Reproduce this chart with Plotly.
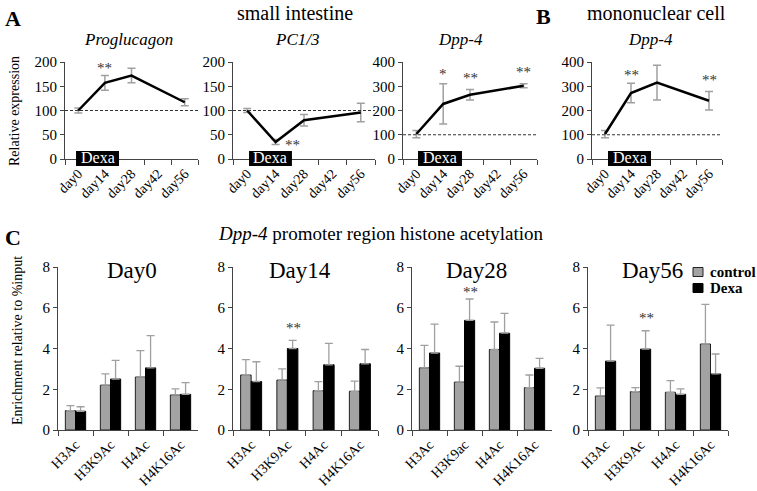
import plotly.graph_objects as go

# ---------------- data ----------------
days = ["day0", "day14", "day28", "day42", "day56"]

progluc = [100, 157, 172, None, 117]
progluc_err = [5, 15, 15, None, 7]
pc13 = [100, 35, 80, None, 96]
pc13_err = [4, 5, 12, None, 19]
dpp4_si = [103, 227, 265, None, 302]
dpp4_si_err = [15, 83, 22, None, 8]
dpp4_mn = [103, 272, 315, None, 240]
dpp4_mn_err = [15, 40, 72, None, 38]

marks = ["H3Ac", "H3K9Ac", "H4Ac", "H4K16Ac"]
marks_d28 = ["H3Ac", "H3K9ac", "H4Ac", "H4K16Ac"]

ctrl_d0 = [0.95, 2.2, 2.6, 1.72]
ctrl_d0_err = [0.25, 0.55, 1.3, 0.3]
dexa_d0 = [0.92, 2.5, 3.05, 1.75]
dexa_d0_err = [0.22, 0.92, 1.58, 0.58]

ctrl_d14 = [2.7, 2.45, 1.93, 1.9]
ctrl_d14_err = [0.75, 0.55, 0.44, 0.5]
dexa_d14 = [2.38, 4.0, 3.2, 3.25]
dexa_d14_err = [0.97, 0.4, 1.05, 0.7]

ctrl_d28 = [3.05, 2.35, 3.95, 2.08]
ctrl_d28_err = [1.1, 0.78, 1.35, 0.62]
dexa_d28 = [3.78, 5.38, 4.75, 3.03]
dexa_d28_err = [1.42, 1.05, 0.97, 0.49]

ctrl_d56 = [1.67, 1.88, 1.85, 4.22]
ctrl_d56_err = [0.4, 0.2, 0.57, 1.95]
dexa_d56 = [3.38, 3.97, 1.75, 2.75]
dexa_d56_err = [1.77, 0.9, 0.27, 0.98]

# ---------------- style ----------------
FONT = "Liberation Serif, Times New Roman, serif"
AX = "#444444"
GREY = "#a3a3a3"
ERR = "#a0a0a0"
STAR = "#333333"
W, H = 757, 491

def px(x):
    return x / W

def py(y):
    return 1 - y / H

fig = go.Figure()
annotations = []
shapes = []

top_panels = [
    # values, errors, gene title, x-domain (px), ymax, dtick, title centre x, dexa box (domain frac), stars
    (progluc, progluc_err, "Proglucagon", (65, 198), 200, 50, 128, (0.083, 0.406),
     [("day14", 188, "**"), ("day28", 205, "**")]),
    (pc13, pc13_err, "PC1/3", (233, 375), 200, 50, 297, (0.113, 0.415),
     [("day14", 28, "**")]),
    (dpp4_si, dpp4_si_err, "Dpp-4", (403, 537), 400, 100, 460, (0.112, 0.44),
     [("day14", 352, "*"), ("day28", 335, "**"), ("day56", 360, "**")]),
    (dpp4_mn, dpp4_mn_err, "Dpp-4", (592, 722), 400, 100, 650, (0.123, 0.454),
     [("day14", 345, "**"), ("day28", 420, "*"), ("day56", 325, "**")]),
]
top_dom = [py(159), py(62)]

for i, (vals, errs, title, xd, ymax, dtick, tcx, box, stars) in enumerate(top_panels):
    n = i + 1
    xa = "x" if n == 1 else f"x{n}"
    ya = "y" if n == 1 else f"y{n}"
    fig.add_trace(go.Scatter(
        x=days, y=vals, mode="lines", connectgaps=True,
        line=dict(color="black", width=2.5),
        error_y=dict(type="data", array=errs, color=ERR, thickness=1.5, width=4),
        xaxis=xa, yaxis=ya, showlegend=False, hoverinfo="skip"))
    fig.update_layout(**{
        ("xaxis" if n == 1 else f"xaxis{n}"): dict(
            domain=[px(xd[0]), px(xd[1])], anchor=ya, type="category",
            categoryarray=days, range=[-0.5, 4.5], showline=True, linecolor=AX,
            linewidth=1, ticks="outside", tickson="boundaries", ticklen=5,
            tickcolor=AX, tickangle=-45, automargin=False,
            tickfont=dict(family=FONT, size=14, color="black"),
            showgrid=False, zeroline=False, fixedrange=True),
        ("yaxis" if n == 1 else f"yaxis{n}"): dict(
            domain=top_dom, anchor=xa, range=[0, ymax], dtick=dtick,
            showline=True, linecolor=AX, linewidth=1, ticks="outside",
            ticklen=4, tickcolor=AX, showgrid=False, zeroline=False, automargin=False,
            tickfont=dict(family=FONT, size=15, color="black"), fixedrange=True),
    })
    # reference line at 100
    shapes.append(dict(type="line", xref=f"{xa} domain", yref=ya, x0=0, x1=1,
                       y0=100, y1=100, line=dict(color="#333", width=1, dash="3px,2px")))
    # Dexa box
    shapes.append(dict(type="rect", xref=f"{xa} domain", yref=f"{ya} domain",
                       ysizemode="pixel", yanchor=0, y0=-7, y1=8,
                       x0=box[0], x1=box[1], fillcolor="black", line=dict(width=0),
                       layer="above"))
    annotations.append(dict(text="Dexa", xref=f"{xa} domain", yref=f"{ya} domain",
                            x=(box[0] + box[1]) / 2, y=0, yshift=1, showarrow=False,
                            yanchor="middle", xanchor="center",
                            font=dict(family=FONT, size=16, color="white")))
    # gene title
    annotations.append(dict(text=f"<i>{title}</i>", xref="paper", yref="paper",
                            x=px(tcx), y=py(40), showarrow=False,
                            xanchor="center", yanchor="middle",
                            font=dict(family=FONT, size=17, color="black")))
    for cat, yv, s in stars:
        annotations.append(dict(text=s, x=cat, y=yv, xref=xa, yref=ya, showarrow=False,
                                xshift=(17 if n == 2 else 0),
                                font=dict(family=FONT, size=15, color=STAR)))

bottom_panels = [
    (marks, ctrl_d0, ctrl_d0_err, dexa_d0, dexa_d0_err, "Day0", (58, 198), 132, None),
    (marks, ctrl_d14, ctrl_d14_err, dexa_d14, dexa_d14_err, "Day14", (233, 378), 300, ("H3K9Ac", 5.0)),
    (marks_d28, ctrl_d28, ctrl_d28_err, dexa_d28, dexa_d28_err, "Day28", (412, 552), 476, ("H3K9ac", 6.75)),
    (marks, ctrl_d56, ctrl_d56_err, dexa_d56, dexa_d56_err, "Day56", (588, 728), 652, ("H3K9Ac", 5.5)),
]
bot_dom = [py(430), py(267)]

for j, (cats, c, ce, d, de, title, xd, tcx, star) in enumerate(bottom_panels):
    n = j + 5
    xa, ya = f"x{n}", f"y{n}"
    fig.add_trace(go.Bar(
        x=cats, y=c, name="control", showlegend=False,
        marker=dict(color=GREY, line=dict(color="#222", width=1)),
        error_y=dict(type="data", symmetric=False, array=ce, arrayminus=[0] * 4,
                     color=ERR, thickness=1.3, width=4),
        xaxis=xa, yaxis=ya, hoverinfo="skip"))
    fig.add_trace(go.Bar(
        x=cats, y=d, name="Dexa", showlegend=False,
        marker=dict(color="black", line=dict(color="black", width=1)),
        error_y=dict(type="data", symmetric=False, array=de, arrayminus=[0] * 4,
                     color=ERR, thickness=1.3, width=4),
        xaxis=xa, yaxis=ya, hoverinfo="skip"))
    fig.update_layout(**{
        f"xaxis{n}": dict(
            domain=[px(xd[0]), px(xd[1])], anchor=ya, type="category", range=[-0.5, 3.5],
            showline=True, linecolor=AX, linewidth=1, ticks="outside",
            tickson="boundaries", ticklen=5, tickcolor=AX, tickangle=-45,
            automargin=False, tickfont=dict(family=FONT, size=14, color="black"),
            showgrid=False, zeroline=False, fixedrange=True),
        f"yaxis{n}": dict(
            domain=bot_dom, anchor=xa, range=[0, 8], dtick=2, showline=True,
            linecolor=AX, linewidth=1, ticks="outside", ticklen=4, tickcolor=AX,
            showgrid=False, zeroline=False, automargin=False,
            tickfont=dict(family=FONT, size=15, color="black"), fixedrange=True),
    })
    annotations.append(dict(text=title, xref="paper", yref="paper",
                            x=px(tcx), y=py(270), showarrow=False,
                            xanchor="center", yanchor="middle",
                            font=dict(family=FONT, size=23, color="black")))
    if star:
        annotations.append(dict(text="**", x=star[0], y=star[1], xref=xa, yref=ya,
                                showarrow=False, xshift=6,
                                font=dict(family=FONT, size=15, color=STAR)))

# ---------- legend (drawn as keys + labels) ----------
legend_items = [("control", GREY, "#222", 272), ("Dexa", "black", "black", 288)]
for name, fill, edge, yc in legend_items:
    shapes.append(dict(type="rect", xref="paper", yref="paper",
                       x0=px(693), x1=px(703), y0=py(yc + 4.5), y1=py(yc - 4.5),
                       fillcolor=fill, line=dict(color=edge, width=1)))
    annotations.append(dict(text=f"<b>{name}</b>", xref="paper", yref="paper",
                            x=px(708), y=py(yc), xanchor="left", yanchor="middle",
                            showarrow=False,
                            font=dict(family=FONT, size=15, color="black")))

# ---------- global texts ----------
def ptext(t, x, y, size, **kw):
    annotations.append(dict(text=t, xref="paper", yref="paper", x=px(x), y=py(y),
                            showarrow=False, xanchor="center", yanchor="middle",
                            font=dict(family=FONT, size=size, color="black"), **kw))

ptext("<b>A</b>", 13, 19, 22)
ptext("<b>B</b>", 543, 17, 22)
ptext("<b>C</b>", 13, 238, 22)
ptext("small intestine", 295, 13, 20)
ptext("mononuclear cell", 656, 13, 20)
ptext("<i>Dpp-4</i> promoter region histone acetylation", 380, 233, 19)
ptext("Relative expression", 14, 111, 14, textangle=-90)
ptext("Enrichment relative to %input", 17, 341, 14, textangle=-90)

fig.update_layout(
    template="none",
    width=W, height=H,
    margin=dict(l=0, r=0, t=0, b=0, autoexpand=False),
    font=dict(family=FONT, color="black"),
    paper_bgcolor="white", plot_bgcolor="white",
    barmode="group", bargap=0.42, bargroupgap=0,
    showlegend=False,
    annotations=annotations, shapes=shapes,
)

# place the figure flush with the page corner (no default body margin)
fig.write_html("out.html", config={"displayModeBar": False},
               post_script="document.body.style.margin='0';")
